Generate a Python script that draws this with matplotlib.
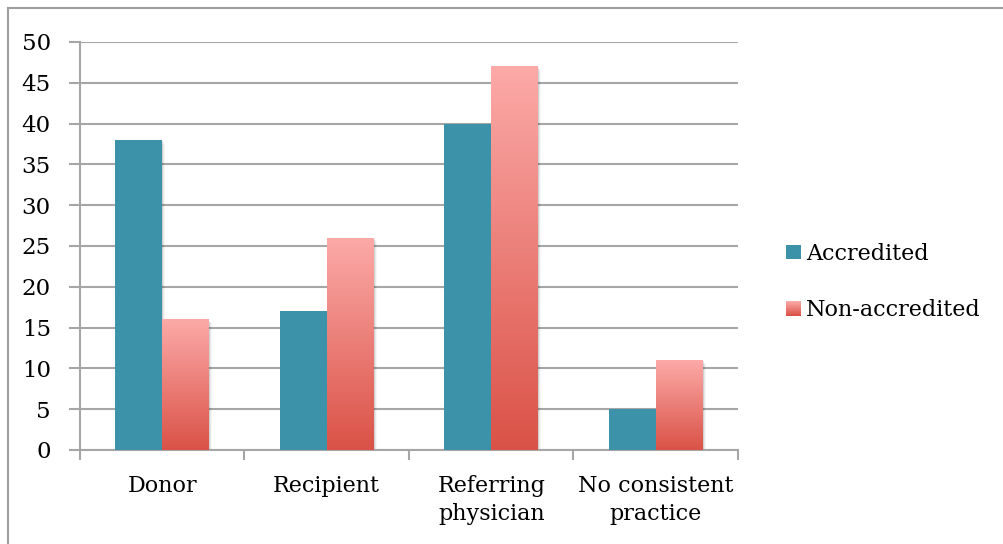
import numpy as np
import matplotlib
matplotlib.use("Agg")
import matplotlib.pyplot as plt
from matplotlib.colors import LinearSegmentedColormap
from matplotlib.patches import Rectangle
from matplotlib.lines import Line2D
from matplotlib.legend_handler import HandlerBase

categories = ["Donor", "Recipient", "Referring\nphysician", "No consistent\npractice"]
accredited = [38, 17, 40, 5]
non_accredited = [16, 26, 47, 11]
series_names = ["Accredited", "Non-accredited"]
y_ticks = [0, 5, 10, 15, 20, 25, 30, 35, 40, 45, 50]

TEAL = "#3C93A9"
GRID = "#A6A6A6"
FONT = ["DejaVu Serif"]
FS = 16
pink_cmap = LinearSegmentedColormap.from_list("pink_red", ["#DA5247", "#FCAAA8"])

plt.rcParams["font.family"] = FONT

fig = plt.figure(figsize=(10.04, 5.44), dpi=100)
W, H = 1004, 544
ax = fig.add_axes([80 / W, 1 - 450 / H, (738 - 80) / W, (450 - 42) / H])

# chart frame: top and left edges
fig.lines.append(Line2D([8 / W, 1], [1 - 8 / H, 1 - 8 / H], transform=fig.transFigure,
                        color="#9E9E9E", linewidth=1.5))
fig.lines.append(Line2D([8 / W, 8 / W], [0, 1 - 8 / H], transform=fig.transFigure,
                        color="#9E9E9E", linewidth=1.5))

x = np.arange(len(categories))
bw = 0.285
b1 = ax.bar(x - bw / 2, accredited, bw, color=TEAL, zorder=3)
b2 = ax.bar(x + bw / 2, non_accredited, bw, color="none", zorder=3)

# vertical gradient inside each non-accredited bar
grad = np.linspace(0, 1, 256).reshape(-1, 1)
for rect in b2:
    x0, y0 = rect.get_x(), rect.get_y()
    w, h = rect.get_width(), rect.get_height()
    im = ax.imshow(grad, cmap=pink_cmap, origin="lower", aspect="auto",
                   extent=[x0, x0 + w, y0, y0 + h], zorder=3)
    im.set_clip_path(rect)

# soft drop shadows
for rect in list(b1) + list(b2):
    x0, h, w = rect.get_x(), rect.get_height(), rect.get_width()
    for k, a in enumerate([0.10, 0.06, 0.03]):
        off = 0.006 * (k + 1)
        ax.add_patch(Rectangle((x0 + off, 0), w, h - 0.15 * (k + 1),
                               facecolor="black", alpha=a, linewidth=0, zorder=2))

ax.set_xlim(-0.5, len(categories) - 0.5)
ax.set_ylim(0, 50)
ax.set_yticks(y_ticks)
ax.set_yticklabels([str(v) for v in y_ticks], fontsize=16.5, fontfamily=FONT)
ax.yaxis.grid(True, color=GRID, linewidth=1.5, zorder=0)
ax.set_axisbelow(True)

ax.set_xticks(np.arange(len(categories) + 1) - 0.5)
ax.set_xticklabels([])
ax.set_xticks(x, minor=True)
ax.set_xticklabels(categories, minor=True, fontsize=FS, fontfamily=FONT, linespacing=1.35)
ax.tick_params(axis="x", which="major", length=7, width=1.5, color=GRID)
ax.tick_params(axis="x", which="minor", length=0, pad=18)
ax.tick_params(axis="y", length=8, width=1.5, color=GRID, pad=13)

for s in ["top", "right"]:
    ax.spines[s].set_visible(False)
for s in ["left", "bottom"]:
    ax.spines[s].set_color(GRID)
    ax.spines[s].set_linewidth(1.5)


class GradientHandler(HandlerBase):
    def create_artists(self, legend, orig_handle, xdescent, ydescent,
                       width, height, fontsize, trans):
        n = 20
        side = height
        x0 = -xdescent + (width - side)
        arts = []
        for i in range(n):
            c = pink_cmap(1 - i / (n - 1))
            arts.append(Rectangle((x0, -ydescent + side * (1 - (i + 1) / n)), side, side / n,
                                  facecolor=c, edgecolor="none", transform=trans))
        return arts


class SquareHandler(HandlerBase):
    def create_artists(self, legend, orig_handle, xdescent, ydescent,
                       width, height, fontsize, trans):
        side = height
        x0 = -xdescent + (width - side)
        return [Rectangle((x0, -ydescent), side, side, facecolor=TEAL,
                          edgecolor="none", transform=trans)]


h1 = Rectangle((0, 0), 1, 1)
h2 = Rectangle((0, 0), 1, 1)
fig.legend([h1, h2], series_names, handler_map={h1: SquareHandler(), h2: GradientHandler()},
           loc="center left", bbox_to_anchor=(775 / W, 1 - 282 / H), frameon=False,
           prop={"family": FONT, "size": FS}, handlelength=0.65, handleheight=0.65,
           handletextpad=0.25, labelspacing=1.55, borderpad=0)

fig.savefig("out.png", dpi=100)
